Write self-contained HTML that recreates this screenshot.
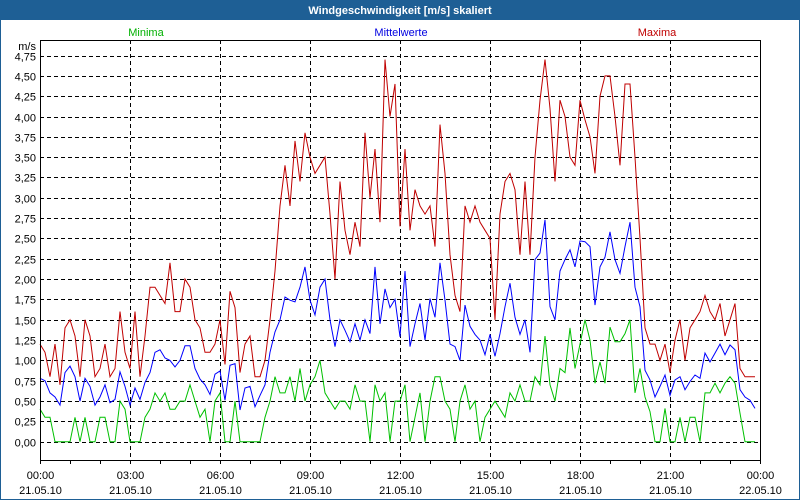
<!DOCTYPE html>
<html><head><meta charset="utf-8"><style>
html,body{margin:0;padding:0;background:#fff}
#wrap{position:relative;width:800px;height:500px;overflow:hidden}
svg{position:absolute;left:0;top:0}
text{font-family:"Liberation Sans",sans-serif;font-size:11px}
</style></head><body>
<div id="wrap">
<svg id="chart" width="800" height="500">
<rect x="0.5" y="0.5" width="799" height="499" fill="#fff" stroke="#1e5f95"/>
<rect x="0" y="0" width="800" height="20" fill="#1e5f95"/>
<text x="400" y="14" text-anchor="middle" fill="#fff" font-weight="bold">Windgeschwindigkeit [m/s] skaliert</text>
<text x="146" y="36" text-anchor="middle" fill="#00b000">Minima</text>
<text x="401" y="36" text-anchor="middle" fill="#0000e0">Mittelwerte</text>
<text x="657" y="36" text-anchor="middle" fill="#c00000">Maxima</text>
<text x="36" y="50" text-anchor="end" fill="#000">m/s</text>
<g id="grid"></g><g id="series"></g><g id="axes"></g>
</svg></div>
<script>
const yTicks=[0,0.25,0.5,0.75,1,1.25,1.5,1.75,2,2.25,2.5,2.75,3,3.25,3.5,3.75,4,4.25,4.5,4.75];
const xTickHours=[0,3,6,9,12,15,18,21,24];
const xTimeLabels=["00:00","03:00","06:00","09:00","12:00","15:00","18:00","21:00","00:00"];
const xDateLabels=["21.05.10","21.05.10","21.05.10","21.05.10","21.05.10","21.05.10","21.05.10","21.05.10","22.05.10"];
const maxima=[1.2,1.1,0.8,1.2,0.7,1.4,1.5,1.3,0.8,1.5,1.3,0.8,0.9,1.2,0.8,0.9,1.6,1.1,0.9,1.6,0.8,1.3,1.9,1.9,1.8,1.7,2.2,1.6,1.6,2.0,1.9,1.5,1.4,1.1,1.1,1.2,1.5,
0.95,1.85,1.65,0.85,1.2,1.3,0.8,0.8,1.0,1.5,2.1,2.9,3.4,2.9,3.7,3.2,3.8,3.5,3.3,3.4,3.5,2.8,2.0,3.2,2.6,2.3,2.7,2.4,3.8,3.0,3.6,2.7,4.7,4.0,4.4,2.65,
3.6,2.6,3.1,2.9,2.8,2.9,2.4,3.9,3.3,2.3,1.8,1.6,2.9,2.7,2.9,2.7,2.6,2.5,1.5,2.8,3.2,3.3,3.1,2.3,3.2,2.3,3.5,4.2,4.7,4.1,3.2,4.2,4.0,3.5,3.4,4.2,
3.96,3.75,3.3,4.25,4.5,4.5,4.0,3.4,4.4,4.4,3.5,2.5,1.4,1.2,1.2,1.0,1.2,0.85,1.25,1.5,1.0,1.4,1.5,1.6,1.8,1.6,1.5,1.7,1.3,1.5,1.7,0.9,0.8,0.8,0.8];
const mittel=[0.78,0.75,0.6,0.55,0.45,0.85,0.93,0.8,0.5,0.78,0.68,0.45,0.55,0.7,0.48,0.52,0.86,0.68,0.45,0.66,0.52,0.73,0.85,1.1,1.13,1.03,1.0,0.92,1.0,1.18,1.18,0.9,0.77,0.7,0.58,0.83,0.87,
0.51,0.94,0.96,0.39,0.66,0.68,0.43,0.57,0.7,1.1,1.35,1.5,1.78,1.74,1.72,1.9,2.15,1.74,1.56,1.9,2.0,1.5,1.17,1.5,1.37,1.23,1.45,1.25,1.5,1.33,2.15,1.45,1.88,1.65,1.75,1.29,
2.1,1.17,1.45,1.7,1.25,1.76,1.53,2.2,1.74,1.2,1.17,1.0,1.68,1.42,1.32,1.25,1.07,1.32,1.05,1.33,1.66,1.95,1.53,1.32,1.5,1.1,2.24,2.32,2.73,1.66,1.5,2.1,2.24,2.36,2.15,2.47,
2.46,2.4,1.68,2.15,2.27,2.58,2.24,2.07,2.4,2.7,1.9,1.66,0.88,0.76,0.55,0.68,0.82,0.57,0.76,0.8,0.64,0.74,0.82,0.78,1.09,0.98,1.09,1.2,1.07,1.19,1.13,0.64,0.55,0.51,0.41];
const minima=[0.4,0.3,0.3,0,0,0,0,0.3,0,0.3,0,0,0.3,0.3,0,0,0.5,0.4,0,0,0,0.3,0.4,0.6,0.5,0.6,0.4,0.4,0.5,0.5,0.7,0.5,0.3,0.4,0,0.5,0.6,
0,0,0.5,0,0,0,0,0,0.3,0.5,0.8,0.6,0.6,0.8,0.5,0.9,0.5,0.7,0.8,1.0,0.6,0.5,0.4,0.5,0.5,0.4,0.7,0.5,0.5,0,0.7,0.5,0.6,0,0.5,0.5,
0.7,0,0.3,0.6,0,0.5,0.8,0.8,0.5,0.4,0,0.5,0.7,0.4,0.5,0,0.3,0.4,0.5,0.4,0.3,0.6,0.5,0.7,0.5,0.5,0.8,0.7,1.3,0.7,0.5,0.9,0.85,1.4,0.9,1.2,
1.5,1.25,0.72,0.98,0.72,1.41,1.23,1.23,1.33,1.5,0.6,0.9,0.55,0.37,0,0,0.41,0,0,0.3,0,0.3,0.3,0,0.6,0.6,0.72,0.6,0.72,0.8,0.72,0.35,0,0,0];
const NS='http://www.w3.org/2000/svg';
const L=40,R=760,T=40,B=460;
const yScale=v=>441.7-v*81.3;
const xHour=h=>L+h*30;
const xIdx=i=>L+i*5;
function mk(tag,attrs,parent){const e=document.createElementNS(NS,tag);for(const k in attrs)e.setAttribute(k,attrs[k]);parent.appendChild(e);return e;}
const grid=document.getElementById('grid'),series=document.getElementById('series'),axes=document.getElementById('axes');
yTicks.forEach(v=>{
  const y=Math.round(yScale(v))+0.5;
  const g=mk('line',{x1:L,x2:R,y1:y,y2:y,stroke:'#000','stroke-dasharray':'4,3'},grid);
  
  
  const t=mk('text',{x:36,y:y+4,'text-anchor':'end',fill:'#000'},axes);
  t.textContent=v.toFixed(2).replace('.',',');
  
  
});
xTickHours.forEach((h,i)=>{
  const x=Math.round(xHour(h))+0.5;
  if(h>0&&h<24){const g=mk('line',{x1:x,x2:x,y1:T,y2:B,stroke:'#000','stroke-dasharray':'4,3'},grid);
  
  }
  const t1=mk('text',{x:x,y:479,'text-anchor':'middle',fill:'#000'},axes);t1.textContent=xTimeLabels[i];
  
  
  const t2=mk('text',{x:x,y:494,'text-anchor':'middle',fill:'#000'},axes);t2.textContent=xDateLabels[i];
  
  
});
for(let h=0;h<=24;h++){const x=Math.round(xHour(h))+0.5;const tk=mk('line',{x1:x,x2:x,y1:B,y2:B+4,stroke:'#000'},axes);
  
  }
const frame=mk('path',{d:`M${L+0.5},${T+0.5}H${R+0.5}V${B+0.5}H${L+0.5}Z`,fill:'none',stroke:'#000'},axes);


function line(arr,col,name){
  const d=arr.map((v,i)=>(i?'L':'M')+xIdx(i)+','+yScale(v).toFixed(1)).join('');
  const p=mk('path',{d:d,fill:'none',stroke:col,'stroke-width':1},series);
  
  
}
line(minima,'#00c000','minima-line');
line(mittel,'#0000ff','mittelwerte-line');
line(maxima,'#c00000','maxima-line');
</script>
</body></html>
